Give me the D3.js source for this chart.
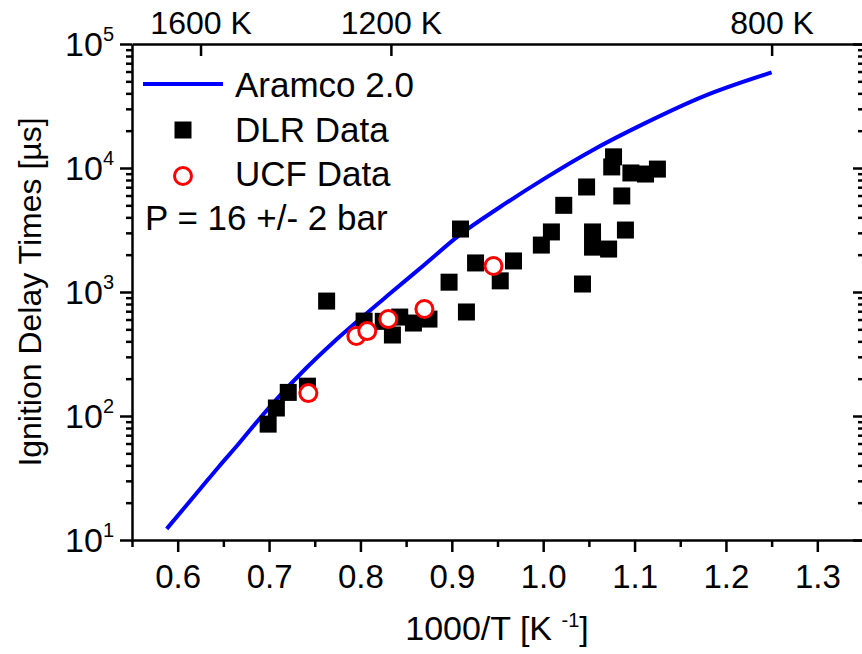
<!DOCTYPE html>
<html>
<head>
<meta charset="utf-8">
<script src="https://cdn.jsdelivr.net/npm/d3@7"></script>
<style>
  body { margin: 0; background: #fff; overflow: hidden; }
  svg { display: block; font-family: "Liberation Sans", Arial, sans-serif; }
  .axis path, .axis line { stroke: #000; stroke-width: 2.5; }
  .axis text { fill: #000; }
</style>
</head>
<body>
<div id="chart"></div>
<script>
// Aramco 2.0 model (1000/T, ignition delay in µs)
const aramcoX = [0.588, 0.606, 0.625, 0.645, 0.667, 0.690, 0.714, 0.741, 0.769, 0.800,
                 0.833, 0.870, 0.909, 0.952, 1.000, 1.053, 1.111, 1.176, 1.250];
const aramcoY = [12.3, 17.7, 26, 39, 60, 96, 152, 245, 385, 610,
                 980, 1660, 2900, 4800, 8100, 13800, 22900, 38000, 59000];

// DLR shock tube data
const dlrX = [0.699, 0.708, 0.721, 0.742, 0.763, 0.804, 0.825, 0.843, 0.835, 0.858,
              0.875, 0.897, 0.9095, 0.916, 0.926, 0.953, 0.9675, 0.998, 1.009, 1.0225,
              1.043, 1.0475, 1.054, 1.054, 1.0716, 1.075, 1.077, 1.086, 1.09, 1.096,
              1.112, 1.125];
const dlrY = [86, 116, 155, 174, 845, 583, 580, 628, 450, 562,
              605, 1200, 3220, 690, 1715, 1230, 1780, 2390, 3050, 5000,
              1160, 7030, 3050, 2300, 2220, 10200, 12300, 5950, 3160, 9120,
              8940, 9800];

// UCF data
const ucfX = [0.743, 0.7955, 0.8075, 0.8305, 0.870, 0.9456];
const ucfY = [153, 442, 484, 605, 730, 1620];

const xTicks = [0.6, 0.7, 0.8, 0.9, 1.0, 1.1, 1.2, 1.3];
const xMinor = [0.55, 0.65, 0.75, 0.85, 0.95, 1.05, 1.15, 1.25, 1.35];
const yDecades = [10, 100, 1000, 10000, 100000];
const topTemps = [1600, 1200, 800];

const width = 862, height = 654;
const mLeft = 132, mRight = 863, mTop = 44, mBottom = 540;

const svg = d3.select("#chart").append("svg")
    .attr("width", width)
    .attr("height", height);

const x = d3.scaleLinear().domain([0.55, 1.35]).range([mLeft, mRight]);
const y = d3.scaleLog().domain([10, 100000]).range([mBottom, mTop]);

const yMinor = [];
yDecades.slice(0, -1).forEach(d => {
    for (let k = 2; k <= 9; k++) yMinor.push(d * k);
});

// bottom axis
svg.append("g").attr("class", "axis")
    .attr("transform", `translate(0,${mBottom})`)
    .call(d3.axisBottom(x).tickValues(xMinor).tickSize(7).tickSizeOuter(0).tickFormat(""))
    .select(".domain").remove();
svg.append("g").attr("class", "axis")
    .attr("transform", `translate(0,${mBottom})`)
    .call(d3.axisBottom(x).tickValues(xTicks).tickSize(12).tickSizeOuter(0)
        .tickPadding(13).tickFormat(d3.format(".1f")))
    .selectAll("text").attr("font-size", 33);

// top axis (temperature)
const topAxis = svg.append("g").attr("class", "axis")
    .attr("transform", `translate(0,${mTop})`)
    .call(d3.axisTop(x).tickValues(topTemps.map(t => 1000 / t)).tickSizeInner(-12)
        .tickSizeOuter(0).tickPadding(10).tickFormat((d, i) => topTemps[i] + " K"));
topAxis.selectAll("text").attr("font-size", 32);

// left axis
svg.append("g").attr("class", "axis")
    .attr("transform", `translate(${mLeft},0)`)
    .call(d3.axisLeft(y).tickValues(yMinor).tickSize(6).tickSizeOuter(0).tickFormat(""))
    .select(".domain").remove();
svg.append("g").attr("class", "axis")
    .attr("transform", `translate(${mLeft},0)`)
    .call(d3.axisLeft(y).tickValues(yDecades).tickSize(12).tickSizeOuter(0).tickFormat(""));

// right axis, ticks inward (axis line itself falls outside the frame)
svg.append("g").attr("class", "axis")
    .attr("transform", `translate(${mRight + 1},0)`)
    .call(d3.axisRight(y).tickValues(yMinor).tickSize(-6).tickSizeOuter(0).tickFormat(""))
    .select(".domain").remove();
svg.append("g").attr("class", "axis")
    .attr("transform", `translate(${mRight + 1},0)`)
    .call(d3.axisRight(y).tickValues(yDecades).tickSize(-11).tickSizeOuter(0).tickFormat(""))
    .select(".domain").remove();

// decade labels with superscripts
const yLab = svg.append("g").selectAll("text")
    .data(yDecades)
    .join("text")
    .attr("x", 114)
    .attr("y", d => y(d) + 12)
    .attr("text-anchor", "end")
    .attr("font-size", 34);
yLab.append("tspan").text("10");
yLab.append("tspan").attr("dy", -15).attr("font-size", 20).text(d => Math.round(Math.log10(d)));

// axis titles
const xTitle = svg.append("text")
    .attr("x", 497)
    .attr("y", 640)
    .attr("text-anchor", "middle")
    .attr("font-size", 34);
xTitle.append("tspan").text("1000/T [K ");
xTitle.append("tspan").attr("dy", -13).attr("font-size", 20).text("-1");
xTitle.append("tspan").attr("dy", 13).text("]");

svg.append("text")
    .attr("transform", `translate(41,${(mTop + mBottom) / 2}) rotate(-90)`)
    .attr("text-anchor", "middle")
    .attr("font-size", 32)
    .text("Ignition Delay Times [µs]");

// model line
const line = d3.line()
    .curve(d3.curveMonotoneX)
    .x(d => x(d[0]))
    .y(d => y(d[1]));

svg.append("path")
    .datum(d3.zip(aramcoX, aramcoY))
    .attr("fill", "none")
    .attr("stroke", "#0000ff")
    .attr("stroke-width", 4)
    .attr("d", line);

// DLR squares
const sq = 17;
svg.append("g").selectAll("rect")
    .data(d3.zip(dlrX, dlrY))
    .join("rect")
    .attr("x", d => x(d[0]) - sq / 2)
    .attr("y", d => y(d[1]) - sq / 2)
    .attr("width", sq)
    .attr("height", sq)
    .attr("fill", "#000");

// UCF circles
svg.append("g").selectAll("circle")
    .data(d3.zip(ucfX, ucfY))
    .join("circle")
    .attr("cx", d => x(d[0]))
    .attr("cy", d => y(d[1]))
    .attr("r", 8.5)
    .attr("fill", "#fff")
    .attr("stroke", "#ff0000")
    .attr("stroke-width", 3);

// legend
const lg = svg.append("g").attr("font-size", 35);
lg.append("line")
    .attr("x1", 143).attr("x2", 223)
    .attr("y1", 84).attr("y2", 84)
    .attr("stroke", "#0000ff").attr("stroke-width", 4);
lg.append("text").attr("x", 235).attr("y", 97).text("Aramco 2.0");
lg.append("rect")
    .attr("x", 183 - sq / 2).attr("y", 130 - sq / 2)
    .attr("width", sq).attr("height", sq).attr("fill", "#000");
lg.append("text").attr("x", 235).attr("y", 142).text("DLR Data");
lg.append("circle")
    .attr("cx", 183).attr("cy", 176).attr("r", 8.5)
    .attr("fill", "#fff").attr("stroke", "#ff0000").attr("stroke-width", 3);
lg.append("text").attr("x", 235).attr("y", 186).text("UCF Data");
lg.append("text").attr("x", 145).attr("y", 230).text("P = 16 +/- 2 bar");
</script>
</body>
</html>
